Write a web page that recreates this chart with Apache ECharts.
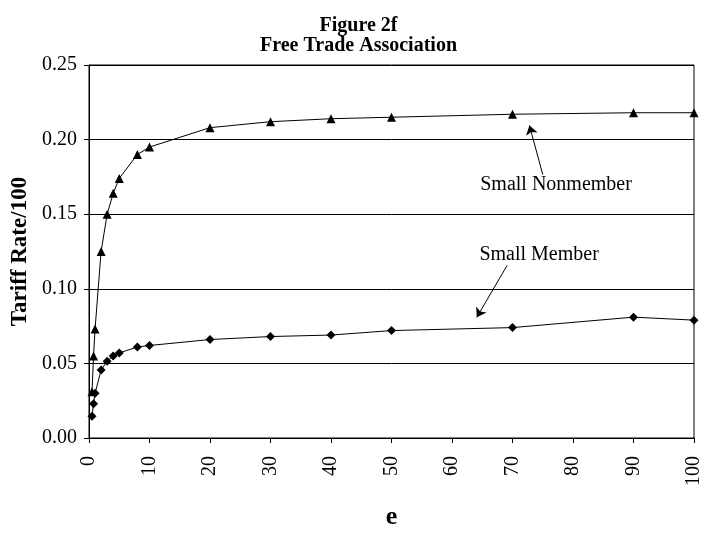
<!DOCTYPE html>
<html>
<head>
<meta charset="utf-8">
<script src="https://cdn.jsdelivr.net/npm/echarts@6/dist/echarts.min.js"></script>
<style>html,body{margin:0;padding:0;background:#fff;}#c{width:717px;height:535px;}</style>
</head>
<body>
<div id="c"></div>
<script>
const eValues = [0.5, 0.75, 1, 2, 3, 4, 5, 8, 10, 20, 30, 40, 50, 70, 90, 100];
const smallNonmember = [0.031, 0.055, 0.073, 0.125, 0.150, 0.164, 0.174, 0.190, 0.195, 0.208, 0.212, 0.214, 0.215, 0.217, 0.218, 0.218];
const smallMember = [0.0145, 0.023, 0.030, 0.0455, 0.0515, 0.055, 0.057, 0.061, 0.062, 0.066, 0.068, 0.069, 0.072, 0.074, 0.081, 0.079];
const titleLines = ['Figure 2f', 'Free Trade Association'];
const xTicks = [0, 10, 20, 30, 40, 50, 60, 70, 80, 90, 100];
const yTicks = [0, 0.05, 0.10, 0.15, 0.20, 0.25];
const annotNonmember = { text: 'Small Nonmember', at: [77.2, 0.170], arrowFrom: [75.0, 0.1765], arrowTo: [72.8, 0.2095] };
const annotMember = { text: 'Small Member', at: [74.4, 0.123], arrowFrom: [69.1, 0.1156], arrowTo: [64.1, 0.0809] };

const FONT = '"Liberation Serif", "Times New Roman", serif';
const pair = (xs, ys) => xs.map((x, i) => [x, ys[i]]);

const chart = echarts.init(document.getElementById('c'));
chart.setOption({
  animation: false,
  backgroundColor: '#fff',
  title: {
    text: titleLines.join('\n'),
    left: 'center',
    top: 11,
    textStyle: { fontFamily: FONT, fontWeight: 'bold', fontSize: 20, color: '#000', lineHeight: 20 }
  },
  grid: { left: 89, right: 23, top: 65, bottom: 96, show: true, borderColor: '#000', borderWidth: 1 },
  xAxis: {
    type: 'value', min: 0, max: 100, interval: 10,
    name: 'e', nameLocation: 'middle', nameGap: 66,
    nameTextStyle: { fontFamily: FONT, fontWeight: 'bold', fontSize: 26, color: '#000' },
    axisLine: { show: true, lineStyle: { color: '#000', width: 1 } },
    axisTick: { show: true, length: 5, lineStyle: { color: '#000' } },
    axisLabel: { rotate: 90, margin: 18, fontFamily: FONT, fontSize: 20, color: '#000',
      formatter: v => xTicks.includes(v) ? String(v) : '' },
    splitLine: { show: false }
  },
  yAxis: {
    type: 'value', min: 0, max: 0.25, interval: 0.05,
    name: 'Tariff Rate/100', nameLocation: 'middle', nameGap: 52,
    nameTextStyle: { fontFamily: FONT, fontWeight: 'bold', fontSize: 23, color: '#000' },
    axisLine: { show: true, lineStyle: { color: '#000', width: 1 } },
    axisTick: { show: true, length: 5, lineStyle: { color: '#000' } },
    axisLabel: { margin: 12, fontFamily: FONT, fontSize: 20, color: '#000',
      formatter: v => yTicks.some(t => Math.abs(t - v) < 1e-9) ? v.toFixed(2) : '' },
    splitLine: { show: true, lineStyle: { color: '#000', width: 1 } }
  },
  series: [
    {
      name: 'Small Nonmember', type: 'line', data: pair(eValues, smallNonmember),
      symbol: 'triangle', symbolSize: 9, showAllSymbol: true,
      lineStyle: { color: '#000', width: 1 }, itemStyle: { color: '#000' },
      markLine: {
        silent: true, symbol: ['none', 'arrow'], symbolSize: 9,
        lineStyle: { color: '#000', width: 1, type: 'solid' }, label: { show: false },
        data: [[{ coord: annotNonmember.arrowFrom }, { coord: annotNonmember.arrowTo }]]
      },
      markPoint: {
        silent: true, symbol: 'circle', symbolSize: 0,
        label: { show: true, position: 'inside', color: '#000', fontFamily: FONT, fontSize: 20, formatter: p => p.name },
        data: [{ name: annotNonmember.text, coord: annotNonmember.at }]
      }
    },
    {
      name: 'Small Member', type: 'line', data: pair(eValues, smallMember),
      symbol: 'diamond', symbolSize: 9, showAllSymbol: true,
      lineStyle: { color: '#000', width: 1 }, itemStyle: { color: '#000' },
      markLine: {
        silent: true, symbol: ['none', 'arrow'], symbolSize: 9,
        lineStyle: { color: '#000', width: 1, type: 'solid' }, label: { show: false },
        data: [[{ coord: annotMember.arrowFrom }, { coord: annotMember.arrowTo }]]
      },
      markPoint: {
        silent: true, symbol: 'circle', symbolSize: 0,
        label: { show: true, position: 'inside', color: '#000', fontFamily: FONT, fontSize: 20, formatter: p => p.name },
        data: [{ name: annotMember.text, coord: annotMember.at }]
      }
    }
  ]
});
</script>
</body>
</html>
